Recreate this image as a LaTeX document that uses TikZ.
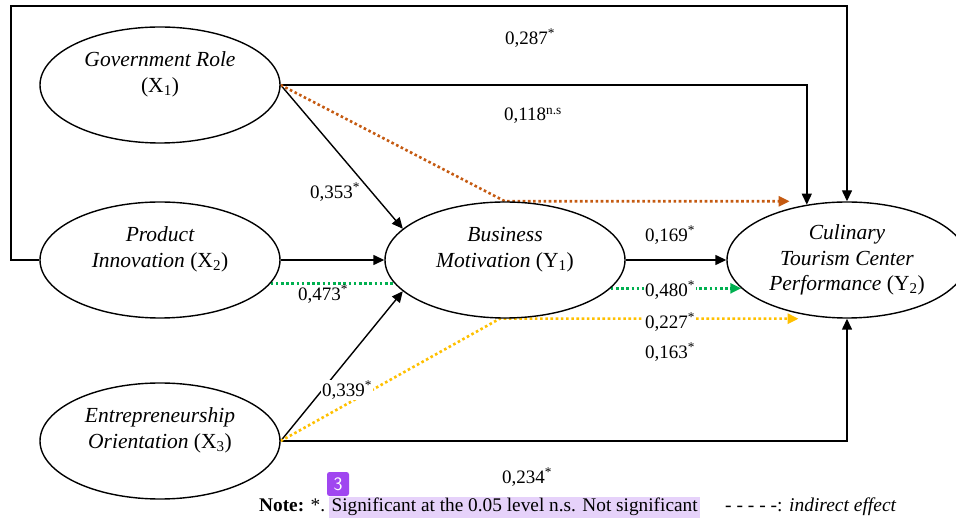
\documentclass[tikz,border=0pt]{standalone}
\usepackage{fontspec}
\setmainfont{Liberation Serif}
\usetikzlibrary{shapes.geometric,arrows.meta}
\definecolor{effect orange}{HTML}{C55A11}
\definecolor{effect green}{HTML}{00B050}
\definecolor{effect yellow}{HTML}{FFC000}
\definecolor{mark purple}{HTML}{A046F0}
\definecolor{mark lilac}{HTML}{E6D2FA}
\tikzstyle{latent}=[fill=white, draw=black, line width=1.4pt, shape=ellipse, minimum width=240pt, minimum height=116pt, inner sep=0pt, align=center, font=\fontsize{21.5}{25.5}\selectfont\itshape]
\tikzstyle{coef}=[font=\fontsize{19}{22}\selectfont, inner sep=1.5pt]
\tikzstyle{coef cut}=[coef, fill=white]
\tikzstyle{direct edge}=[-{Triangle[length=11pt,width=10pt]}, draw=black, line width=1.4pt]
\tikzstyle{indirect edge}=[-{Triangle[length=11pt,width=10pt]}, line width=2.6pt, dash pattern=on 2.6pt off 2.6pt]
\tikzstyle{indirect part}=[-, line width=2.6pt, dash pattern=on 2.6pt off 2.6pt]
\pgfdeclarelayer{nodelayer}
\pgfdeclarelayer{edgelayer}
\pgfsetlayers{edgelayer,nodelayer,main}

\begin{document}
\begin{tikzpicture}[x=1pt, y=-1pt]
	\useasboundingbox (0,0) rectangle (956,518);
	\begin{pgfonlayer}{nodelayer}
		\node [style=latent] (0) at (160,85) {Government Role\\\textup{(X\textsubscript{1})}\\~};
		\node [style=latent] (1) at (160,260) {Product\\Innovation \textup{(X\textsubscript{2})}\\~};
		\node [style=latent] (2) at (160,441) {Entrepreneurship\\Orientation \textup{(X\textsubscript{3})}\\~};
		\node [style=latent] (3) at (505,260) {Business\\Motivation \textup{(Y\textsubscript{1})}\\~};
		\node [style=latent] (4) at (847,260) {Culinary\\Tourism Center\\Performance \textup{(Y\textsubscript{2})}};
	\end{pgfonlayer}
	\begin{pgfonlayer}{edgelayer}
		\coordinate (5) at (11,260);
		\coordinate (6) at (11,6);
		\draw [style=direct edge] (1.west) -- (5) -- (6) -| (4.north);
		\draw [style=direct edge] (0.east) -| (4.126);
		\draw [style=direct edge] (2.east) -| (4.south);
		\draw [style=direct edge] (0.east) -- (3.163);
		\draw [style=direct edge] (1.east) -- (3.west);
		\draw [style=direct edge] (2.east) -- (3.197);
		\draw [style=direct edge] (3.east) -- (4.west);
		\draw [style=indirect edge, draw=effect orange] (0.east) -- (3.north) -- (3.north -| 4.138);
		\draw [style=indirect part, draw=effect green] (1.-12) -- (3.192);
		\draw [style=indirect edge, draw=effect green] (3.-15) -- (4.195);
		\draw [style=indirect edge, draw=effect yellow] (2.east) -- (3.-95) -- (3.south -| 4.228);
	\end{pgfonlayer}
	\node [style=coef] (7) at (530,38) {0,287\textsuperscript{*}};
	\node [style=coef] (8) at (533,116) {0,118\textsuperscript{n.s}};
	\node [style=coef] (9) at (335,192) {0,353\textsuperscript{*}};
	\node [style=coef] (10) at (670,235) {0,169\textsuperscript{*}};
	\node [style=coef] (11) at (323,294) {0,473\textsuperscript{*}};
	\node [style=coef cut] (12) at (670,290) {0,480\textsuperscript{*}};
	\node [style=coef cut] (13) at (670,322) {0,227\textsuperscript{*}};
	\node [style=coef] (14) at (670,352) {0,163\textsuperscript{*}};
	\node [style=coef cut] (15) at (347,390) {0,339\textsuperscript{*}};
	\node [style=coef] (16) at (527,477) {0,234\textsuperscript{*}};
	% note line under the model
	\fill [mark lilac] (329,497) rectangle (700,518);
	\node [anchor=west, inner sep=0pt, font=\fontsize{19.3}{22}\selectfont] (17) at (259,507) {\textbf{Note:} *. Significant at the 0.05 level n.s. Not significant};
	\node [anchor=west, inner sep=0pt, font=\fontsize{19.5}{22}\selectfont] (18) at (725,507) {- - - - -: \textit{indirect effect}};
	\node [fill=mark purple, rounded corners=2.5pt, minimum width=22pt, minimum height=24pt, inner sep=0pt, text=white, font=\fontsize{19}{19}\sffamily] (19) at (338,484) {3};
\end{tikzpicture}
\end{document}
